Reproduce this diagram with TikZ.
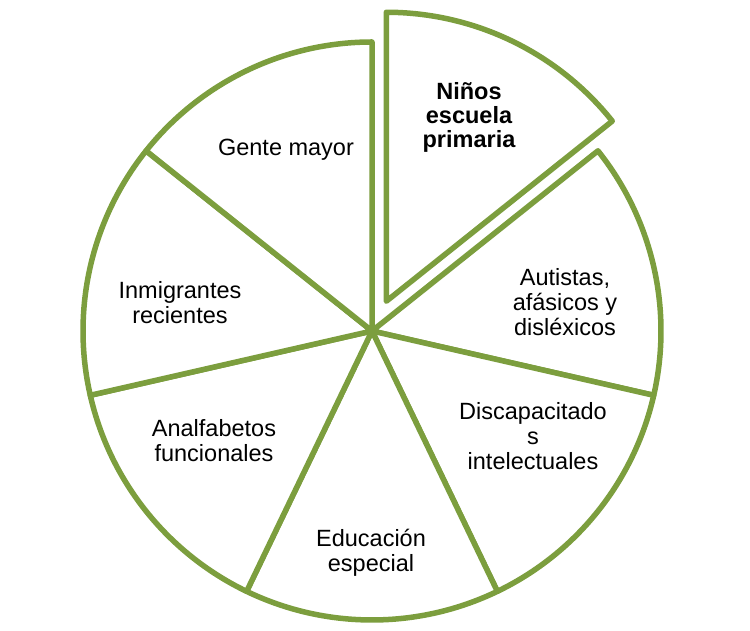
\documentclass[tikz,border=0pt]{standalone}
\usepackage{fontspec}
\setmainfont{Liberation Sans}
\usetikzlibrary{calc}
\begin{document}
\begin{tikzpicture}[x=1pt,y=1pt,
  slice/.style={draw=piegreen,line width=5.5pt,line join=round,fill=white},
  lbl/.style={align=center,inner sep=0pt,font=\fontsize{23.5}{25}\selectfont}]
\definecolor{piegreen}{RGB}{124,158,62}
\useasboundingbox (0,0) rectangle (750,631);
\def\R{289}
\coordinate (C) at (372,300);
\coordinate (E) at ($(C)+(64.29:33)$);
% exploded slice
\draw[slice] (E) -- ++(90:\R) arc[start angle=90,end angle=38.57,radius=\R] -- cycle;
% main slices
\foreach \a/\b in {38.57/-12.86,-12.86/-64.29,-64.29/-115.71,-115.71/-167.14,-167.14/-218.57,-218.57/-270}{
  \draw[slice] (C) -- ++(\a:\R) arc[start angle=\a,end angle=\b,radius=\R] -- cycle;
}
\node[lbl,font=\fontsize{23.5}{24}\selectfont\bfseries] (ninos) at (469,514) {Niños\\escuela\\primaria};
\node[lbl] (autistas) at (565,328.5) {Autistas,\\afásicos y\\disléxicos};
\node[lbl] (discap) at (533,194.5) {Discapacitado\\s\\intelectuales};
\node[lbl] (educ) at (371,78.5) {Educación\\especial};
\node[lbl] (analf) at (214,190) {Analfabetos\\funcionales};
\node[lbl] (inmig) at (180,328.5) {Inmigrantes\\recientes};
\node[lbl] (gente) at (286,481) {Gente mayor};
\end{tikzpicture}
\end{document}
